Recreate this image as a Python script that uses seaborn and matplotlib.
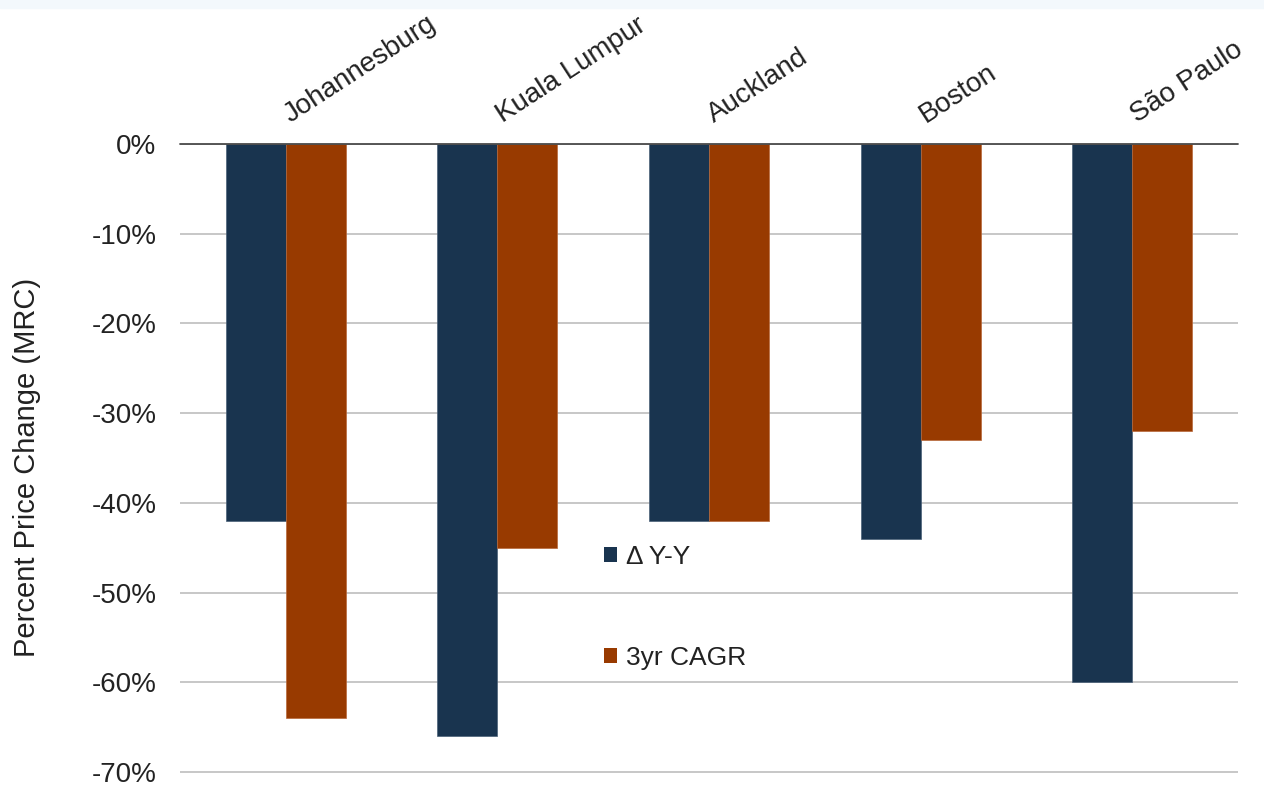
import matplotlib
matplotlib.use("Agg")
import matplotlib.pyplot as plt
import matplotlib.transforms as mtransforms
import seaborn as sns
import pandas as pd
from matplotlib.patches import Rectangle

cities = ["Johannesburg", "Kuala Lumpur", "Auckland", "Boston", "São Paulo"]
series_names = ["\u0394 Y-Y", "3yr CAGR"]
yy_change = [-42, -66, -42, -44, -60]
cagr_3yr = [-64, -45, -42, -33, -32]
y_ticks = [0, -10, -20, -30, -40, -50, -60, -70]
y_tick_labels = ["0%", "-10%", "-20%", "-30%", "-40%", "-50%", "-60%", "-70%"]
colors = ["#19344F", "#983A00"]
edge_colors = ["#4A6078", "#B8683A"]

df = pd.DataFrame({
    "city": cities * 2,
    "series": [series_names[0]] * len(cities) + [series_names[1]] * len(cities),
    "value": yy_change + cagr_3yr,
})

sns.set_theme(style="white")
plt.rcParams["font.family"] = ["Liberation Sans", "DejaVu Sans"]
TXT = "#222222"
plt.rcParams["text.color"] = TXT
plt.rcParams["xtick.color"] = TXT
plt.rcParams["ytick.color"] = TXT
plt.rcParams["axes.labelcolor"] = TXT

W, H = 1264, 789
fig = plt.figure(figsize=(W / 100, H / 100), dpi=100)
fig.patches.append(Rectangle((0, 1 - 8 / H), 1, 8 / H, transform=fig.transFigure,
                             color="#F3F8FC", zorder=0))

ax_left, ax_right = 180 / W, 1238 / W
ax_top = 1 - 144 / H
ax_bottom = 1 - 776.5 / H
ax = fig.add_axes([ax_left, ax_bottom, ax_right - ax_left, ax_top - ax_bottom])

sns.barplot(data=df, x="city", y="value", hue="series", palette=colors,
            width=0.567, gap=0, saturation=1, ax=ax,
            edgecolor="none", linewidth=0, zorder=3)
for patch, col in zip(ax.patches, [edge_colors[0]] * 5 + [edge_colors[1]] * 5):
    patch.set_edgecolor(col)
    patch.set_linewidth(0.5)

ax.set_ylim(-70.5, 0)
ax.set_xlim(-0.5, 4.5)
ax.set_yticks(y_ticks)
ax.set_yticklabels(y_tick_labels)
ax.yaxis.grid(True, color="#BDBDBD", linewidth=1.2)
ax.set_axisbelow(True)
for s in ax.spines.values():
    s.set_visible(False)
ax.axhline(0, color="#4A4A4A", linewidth=1.3, zorder=4, clip_on=False)

ax.xaxis.tick_top()
ax.set_xticks(range(len(cities)))
ax.set_xticklabels(cities, rotation=33, ha="left", va="baseline",
                   rotation_mode="anchor", fontsize=20)
ax.tick_params(axis="x", length=0, pad=15)
shift = mtransforms.ScaledTranslation(5 / 100, 0, fig.dpi_scale_trans)
for lbl in ax.get_xticklabels():
    lbl.set_transform(lbl.get_transform() + shift)
ax.tick_params(axis="y", length=0, pad=17, labelsize=20)
ax.set_xlabel("")
ax.set_ylabel("Percent Price Change (MRC)", fontsize=21)
ax.yaxis.set_label_coords(41 / W, 1 - 467 / H, transform=fig.transFigure)

handles, labels = ax.get_legend_handles_labels()
ax.legend(handles, labels, loc="upper left", bbox_to_anchor=(604 / W, 1 - 545 / H),
          bbox_transform=fig.transFigure, frameon=False, fontsize=19,
          handlelength=0.5, handleheight=0.5, handletextpad=0.35,
          labelspacing=2.9, borderpad=0, borderaxespad=0)

fig.savefig("out.png", dpi=100, facecolor="white")
